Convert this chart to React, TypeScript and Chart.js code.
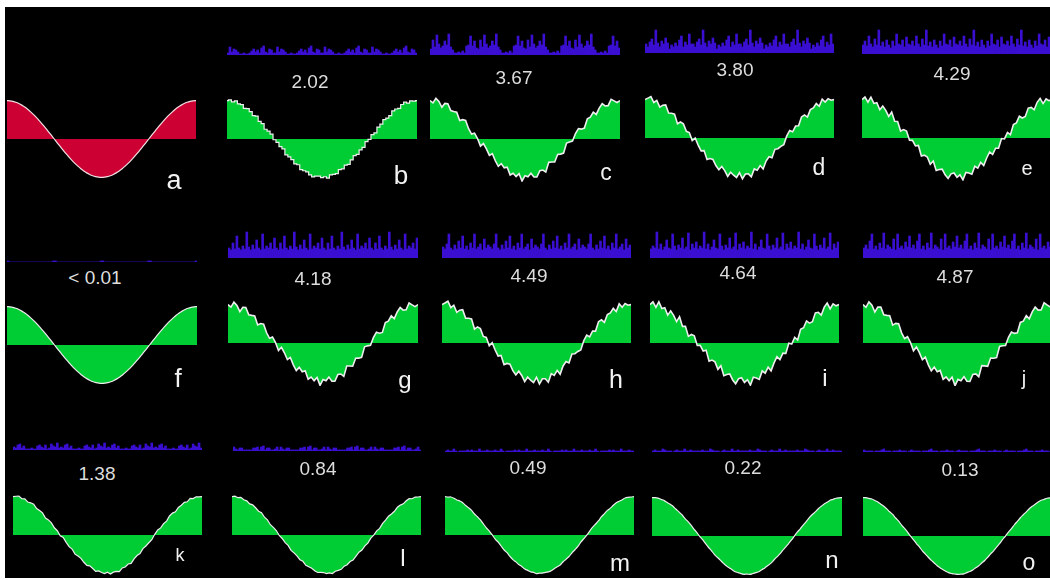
import React, { useEffect, useRef } from "react";
import { Chart, registerables } from "chart.js";

Chart.register(...registerables);

// ---------- DATA ----------
const panelLetters = ["a", "b", "c", "d", "e", "f", "g", "h", "i", "j", "k", "l", "m", "n", "o"];
const valueLabels = ["", "2.02", "3.67", "3.80", "4.29", "< 0.01", "4.18", "4.49", "4.64", "4.87", "1.38", "0.84", "0.49", "0.22", "0.13"];

// one period of the clean cosine, 65 samples
const cosineWave = [
  1, 0.995, 0.981, 0.957, 0.924, 0.882, 0.831, 0.773, 0.707, 0.634, 0.556, 0.471, 0.383, 0.29, 0.195, 0.098,
  0, -0.098, -0.195, -0.29, -0.383, -0.471, -0.556, -0.634, -0.707, -0.773, -0.831, -0.882, -0.924, -0.957, -0.981, -0.995,
  -1, -0.995, -0.981, -0.957, -0.924, -0.882, -0.831, -0.773, -0.707, -0.634, -0.556, -0.471, -0.383, -0.29, -0.195, -0.098,
  0, 0.098, 0.195, 0.29, 0.383, 0.471, 0.556, 0.634, 0.707, 0.773, 0.831, 0.882, 0.924, 0.957, 0.981, 0.995, 1,
];

// quantisation error patterns read from the jagged edges
const jitterA = [
  0.0, 0.6, -0.4, 0.9, -0.2, 0.3, -0.8, 0.5, 0.1, -0.6, 1.0, -0.3, 0.4, -0.9, 0.2, 0.7, -0.5, 0.3, -0.1, 0.8,
  -0.7, 0.2, 0.5, -0.4, 0.9, -0.6, 0.1, 0.6, -0.3, -0.8, 0.4, 0.7, -0.2, 0.3, -0.9, 0.5, 0.1, -0.5, 0.8, -0.1,
  0.6, -0.7, 0.3, 0.9, -0.4, 0.2, -0.6, 0.7, -0.2, 0.4, -0.9, 0.5, 0.1, 0.8, -0.3, -0.6, 0.6, 0.2, -0.8, 0.4,
  0.9, -0.5, 0.3, -0.2, 0.0,
];
const jitterB = [
  0.0, -0.5, 0.7, 0.2, -0.9, 0.4, 0.8, -0.3, 0.1, 0.6, -0.7, 0.3, 0.9, -0.2, -0.6, 0.5, 0.1, -0.8, 0.7, 0.3,
  -0.4, 0.8, -0.1, -0.7, 0.6, 0.2, 0.9, -0.5, 0.3, -0.2, 0.7, -0.9, 0.4, 0.1, 0.8, -0.3, -0.6, 0.5, 0.2, -0.8,
  0.9, 0.3, -0.4, 0.6, -0.1, -0.7, 0.8, 0.2, -0.5, 0.4, 0.7, -0.3, -0.9, 0.5, 0.1, 0.6, -0.6, 0.3, 0.8, -0.2,
  -0.5, 0.7, 0.1, -0.4, 0.0,
];
const jitterC = [
  0.0, 0.4, 0.9, -0.3, 0.5, -0.7, 0.2, 0.8, -0.5, 0.1, 0.6, -0.9, 0.3, 0.7, -0.2, 0.4, -0.6, 0.9, 0.1, -0.4,
  0.5, -0.8, 0.2, 0.7, -0.1, -0.5, 0.8, 0.3, -0.7, 0.6, 0.1, -0.3, 0.9, -0.6, 0.4, 0.2, -0.8, 0.7, -0.1, 0.5,
  -0.9, 0.3, 0.6, -0.4, 0.8, 0.1, -0.2, -0.7, 0.5, 0.9, -0.3, 0.2, -0.6, 0.7, 0.4, -0.8, 0.3, 0.1, 0.6, -0.5,
  0.8, -0.2, 0.4, -0.1, 0.0,
];
const jitterPatterns = [jitterA, jitterB, jitterC];
const jitterChoice = [0, 0, 1, 2, 0, 0, 1, 2, 0, 1, 2, 0, 1, 2, 0];
const jitterSize = [0, 0.04, 0.11, 0.11, 0.12, 0, 0.12, 0.12, 0.13, 0.13, 0.035, 0.025, 0.012, 0.008, 0.006];

// error spectra: one repeating block of 24 bins per panel (4 blocks shown)
const spectrumB = [2, 8, 3, 6, 5, 3, 1, 1, 2, 1, 1, 2, 4, 6, 3, 5, 2, 7, 9, 3, 2, 6, 5, 2];
const spectrumC = [6, 15, 8, 20, 11, 7, 9, 14, 10, 21, 8, 5, 2, 2, 3, 2, 4, 2, 9, 10, 19, 9, 14, 7];
const spectrumD = [9, 6, 11, 14, 8, 23, 10, 6, 12, 9, 15, 10, 4, 8, 6, 10, 7, 13, 17, 6, 11, 8, 19, 9];
const spectrumE = [9, 13, 8, 18, 10, 7, 15, 9, 24, 8, 12, 7, 14, 9, 6, 13, 8, 20, 10, 9, 14, 7, 17, 10];
const spectrumF = [1, 0, 0, 0, 0, 0, 0, 0, 0, 0, 0, 0, 0, 0, 0, 0, 0, 0, 0, 0, 0, 0, 0, 1];
const spectrumG = [10, 8, 15, 9, 22, 10, 8, 12, 9, 26, 11, 8, 13, 9, 18, 10, 8, 24, 9, 12, 10, 15, 9, 20];
const spectrumH = [11, 9, 14, 24, 10, 8, 13, 9, 17, 10, 22, 9, 12, 8, 15, 10, 24, 9, 11, 14, 8, 19, 10, 13];
const spectrumI = [9, 12, 10, 26, 9, 14, 8, 11, 18, 10, 9, 24, 12, 8, 13, 10, 20, 9, 11, 25, 8, 14, 10, 16];
const spectrumJ = [10, 13, 9, 17, 24, 9, 12, 8, 15, 10, 25, 9, 13, 11, 9, 19, 8, 24, 10, 12, 9, 16, 11, 22];
const spectrumK = [3, 2, 5, 6, 2, 4, 1, 1, 1, 2, 1, 1, 4, 5, 3, 2, 5, 1, 2, 6, 4, 3, 7, 2];
const spectrumL = [4, 2, 1, 3, 3, 1, 1, 1, 1, 1, 3, 3, 4, 1, 4, 5, 1, 3, 3, 1, 1, 2, 4, 1];
const spectrumM = [1, 2, 1, 1, 3, 1, 0, 1, 1, 1, 1, 2, 1, 2, 1, 1, 1, 3, 1, 1, 1, 2, 1, 1];
const spectrumN = [1, 2, 1, 1, 1, 3, 2, 1, 1, 1, 0, 1, 2, 1, 1, 1, 3, 1, 1, 2, 1, 1, 1, 1];
const spectrumO = [2, 1, 1, 1, 1, 0, 1, 1, 1, 2, 3, 1, 1, 1, 0, 1, 1, 1, 2, 1, 1, 1, 0, 1];
const spectra: (number[] | null)[] = [
  null, spectrumB, spectrumC, spectrumD, spectrumE,
  spectrumF, spectrumG, spectrumH, spectrumI, spectrumJ,
  spectrumK, spectrumL, spectrumM, spectrumN, spectrumO,
];
const spectrumRepeats = 4;

// ---------- LAYOUT ----------
// [left, right, zeroY]
const waveBoxes = [
  [7, 196, 139], [227, 417, 139], [430, 620, 139], [645, 834, 138], [862, 1052, 138],
  [7, 197, 345], [228, 418, 343], [442, 631, 343], [650, 839, 343], [863, 1053, 343],
  [13, 202, 535], [232, 421, 535], [445, 634, 535], [652, 842, 536], [863, 1053, 536],
];
// [left, right, bottomY]
const spectrumBoxes = [
  [0, 0, 0], [227, 417, 55], [430, 620, 55], [645, 834, 53], [862, 1052, 54],
  [7, 197, 262], [228, 418, 258], [442, 631, 258], [650, 839, 258], [863, 1053, 258],
  [13, 202, 450], [233, 421, 451], [445, 634, 452], [652, 842, 452], [863, 1053, 452],
];
// [x, y] centres
const valuePos = [
  [0, 0], [310, 81], [514, 77], [735, 69], [952, 73],
  [95, 277], [313, 278], [529, 275], [738, 272], [955, 276],
  [97, 473], [318, 468], [528, 467], [743, 467], [960, 469],
];
// [x, y, fontSize]
const letterPos = [
  [174, 180, 27], [401, 175, 26], [606, 172, 23], [819, 167, 23], [1027, 168, 20],
  [178, 378, 26], [405, 380, 24], [616, 379, 25], [825, 378, 24], [1024, 378, 20],
  [180, 555, 18], [403, 558, 24], [620, 563, 24], [832, 560, 24], [1029, 562, 23],
];

const WAVE_H = 86;
const WAVE_RANGE = 1.12;
const SPEC_H = 27;

function ChartCanvas({ left, top, width, height, config }: any) {
  const ref = useRef<HTMLCanvasElement>(null);
  useEffect(() => {
    const chart = new Chart(ref.current as HTMLCanvasElement, config);
    return () => chart.destroy();
  }, []);
  return (
    <canvas
      ref={ref}
      width={width}
      height={height}
      style={{ position: "absolute", left, top, width, height, display: "block" }}
    />
  );
}

const baseOptions = (yMin: number, yMax: number) => ({
  animation: false,
  responsive: false,
  events: [],
  layout: { padding: 0 },
  plugins: { legend: { display: false }, tooltip: { enabled: false }, title: { display: false } },
  scales: {
    x: { display: false },
    y: { display: false, min: yMin, max: yMax },
  },
});

function waveConfig(i: number) {
  const jit = jitterPatterns[jitterChoice[i]];
  const amt = jitterSize[i];
  const values = cosineWave.map((v, k) => v + (jit[k] ?? 0) * amt);
  const red = i === 0;
  const staircase = i === 1;
  return {
    type: "line",
    data: {
      labels: cosineWave.map((_, k) => k),
      datasets: [
        {
          data: values,
          borderColor: red ? "#f2dfe3" : "#eeeeee",
          borderWidth: amt > 0.05 ? 1.6 : 1.2,
          backgroundColor: red ? "#cc0033" : "#00cc33",
          fill: "origin",
          pointRadius: 0,
          tension: amt > 0.02 ? 0 : 0.3,
          stepped: staircase ? "middle" : false,
        },
      ],
    },
    options: baseOptions(-WAVE_RANGE, WAVE_RANGE),
  };
}

function spectrumConfig(i: number) {
  const block = spectra[i] as number[];
  const values: number[] = [];
  for (let r = 0; r < spectrumRepeats; r++) values.push(...block);
  return {
    type: "bar",
    data: {
      labels: values.map((_, k) => k),
      datasets: [
        {
          data: values,
          backgroundColor: "#3a0fd2",
          borderWidth: 0,
          barPercentage: 1,
          categoryPercentage: 1,
        },
      ],
    },
    options: baseOptions(0, SPEC_H),
  };
}

export default function App() {
  return (
    <div
      style={{
        position: "fixed",
        left: 0,
        top: 0,
        width: 1050,
        height: 580,
        background: "#ffffff",
        overflow: "hidden",
        fontFamily: "'Liberation Sans', Arial, sans-serif",
      }}
    >
      <div style={{ position: "absolute", left: 5, top: 7, width: 1045, height: 571, background: "#000000" }} />
      {panelLetters.map((letter, i) => {
        const [l, r, zero] = waveBoxes[i];
        const [sl, sr, sb] = spectrumBoxes[i];
        const [vx, vy] = valuePos[i];
        const [lx, ly, lf] = letterPos[i];
        return (
          <React.Fragment key={letter}>
            <ChartCanvas left={l} top={zero - WAVE_H / 2} width={r - l} height={WAVE_H} config={waveConfig(i)} />
            {spectra[i] && (
              <ChartCanvas left={sl} top={sb - SPEC_H} width={sr - sl} height={SPEC_H} config={spectrumConfig(i)} />
            )}
            {valueLabels[i] && (
              <div
                style={{
                  position: "absolute",
                  left: vx,
                  top: vy,
                  transform: "translate(-50%, -50%)",
                  color: "#dddddd",
                  fontSize: 19,
                  lineHeight: 1,
                  whiteSpace: "nowrap",
                }}
              >
                {valueLabels[i]}
              </div>
            )}
            <div
              style={{
                position: "absolute",
                left: lx,
                top: ly,
                transform: "translate(-50%, -50%)",
                color: "#f2f2f2",
                fontSize: lf,
                lineHeight: 1,
              }}
            >
              {letter}
            </div>
          </React.Fragment>
        );
      })}
    </div>
  );
}
